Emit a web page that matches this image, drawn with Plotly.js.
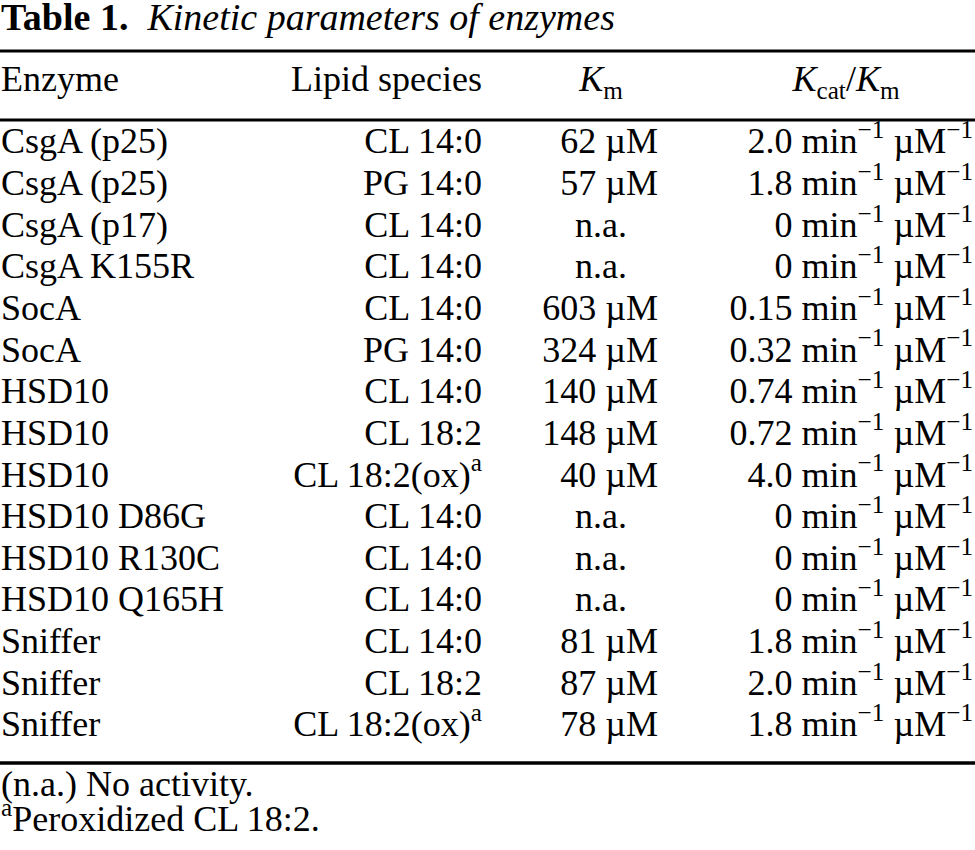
<!DOCTYPE html>
<html>
<head>
<meta charset="utf-8">
<script src="https://cdn.plot.ly/plotly-3.0.1.min.js"></script>
<style>html,body{margin:0;padding:0;background:#fff;}#chart{width:975px;height:850px;}</style>
</head>
<body>
<div id="chart"></div>
<script>
// ---- data ----
var tableTitleLabel = 'Table 1.';
var tableTitleText = 'Kinetic parameters of enzymes';
var columnHeaders = ['Enzyme', 'Lipid species', '<i>K</i><sub>m</sub>', '<i>K</i><sub>cat</sub>/<i>K</i><sub>m</sub>'];
var enzymes = ['CsgA (p25)', 'CsgA (p25)', 'CsgA (p17)', 'CsgA K155R', 'SocA', 'SocA', 'HSD10', 'HSD10', 'HSD10',
               'HSD10 D86G', 'HSD10 R130C', 'HSD10 Q165H', 'Sniffer', 'Sniffer', 'Sniffer'];
var lipidSpecies = ['CL 14:0', 'PG 14:0', 'CL 14:0', 'CL 14:0', 'CL 14:0', 'PG 14:0', 'CL 14:0', 'CL 18:2', 'CL 18:2(ox)',
                    'CL 14:0', 'CL 14:0', 'CL 14:0', 'CL 14:0', 'CL 18:2', 'CL 18:2(ox)'];
var lipidNotes = ['', '', '', '', '', '', '', '', 'a', '', '', '', '', '', 'a'];
var kmValues = [62, 57, null, null, 603, 324, 140, 148, 40, null, null, null, 81, 87, 78]; // null = no activity
var kcatKmValues = ['2.0', '1.8', '0', '0', '0.15', '0.32', '0.74', '0.72', '4.0', '0', '0', '0', '1.8', '2.0', '1.8'];
var kmUnit = '\u00b5M';
var kcatKmUnit = 'min<sup>\u22121</sup> \u00b5M<sup>\u22121</sup>';
var noActivityLabel = 'n.a.';
var footnotes = ['(n.a.) No activity.', '<sup>a</sup>Peroxidized CL 18:2.'];

// ---- layout constants ----
var W = 975, H = 850;
var FONT = {family: '"Liberation Serif", "Times New Roman", serif', size: 36, color: '#000'};
var TITLE_FONT = {family: '"Liberation Serif", "Times New Roman", serif', size: 38, color: '#000'};
var X_ENZ = 1, X_LIPID = 482, X_KM_RIGHT = 658, X_KM_CENTER = 601, X_KK_RIGHT = 973, X_KK_CENTER = 846;
var ROW0_PX = 144.4, ROW_STEP = 41.64;
function pxToRow(px) { return (px - ROW0_PX) / ROW_STEP; }
var Y_HEADER = pxToRow(82.4);
var Y_FOOT = [pxToRow(787.4), pxToRow(822.4)];
var RULES = [{y: pxToRow(51), w: 3}, {y: pxToRow(120), w: 3}, {y: pxToRow(763), w: 3.5}];

var rows = enzymes.map(function (_, i) { return i; });
function rep(v, n) { var a = []; for (var i = 0; i < n; i++) a.push(v); return a; }
var n = rows.length;

var lipidText = lipidSpecies.map(function (s, i) { return lipidNotes[i] ? s + '<sup>' + lipidNotes[i] + '</sup>' : s; });
var kmText = kmValues.map(function (v) { return v === null ? noActivityLabel : v + ' ' + kmUnit; });
var kmX = kmValues.map(function (v) { return v === null ? X_KM_CENTER : X_KM_RIGHT; });
var kmPos = kmValues.map(function (v) { return v === null ? 'middle center' : 'middle left'; });
var kkText = kcatKmValues.map(function (v) { return v + ' ' + kcatKmUnit; });

function textTrace(x, y, text, pos) {
  return {type: 'scatter', mode: 'text', x: x, y: y, text: text, textposition: pos,
          textfont: FONT, hoverinfo: 'skip', showlegend: false, cliponaxis: false};
}

var traces = [
  // header
  textTrace([X_ENZ], [Y_HEADER], [columnHeaders[0]], 'middle right'),
  textTrace([X_LIPID], [Y_HEADER], [columnHeaders[1]], 'middle left'),
  textTrace([X_KM_CENTER], [Y_HEADER], [columnHeaders[2]], 'middle center'),
  textTrace([X_KK_CENTER], [Y_HEADER], [columnHeaders[3]], 'middle center'),
  // body
  textTrace(rep(X_ENZ, n), rows, enzymes, 'middle right'),
  textTrace(rep(X_LIPID, n), rows, lipidText, 'middle left'),
  textTrace(kmX, rows, kmText, kmPos),
  textTrace(rep(X_KK_RIGHT, n), rows, kkText, 'middle left'),
  // footnotes
  textTrace([X_ENZ, X_ENZ], Y_FOOT, footnotes, 'middle right')
];

var shapes = RULES.map(function (r) {
  return {type: 'line', xref: 'paper', yref: 'y', x0: 0, x1: 1, y0: r.y, y1: r.y,
          line: {color: '#000', width: r.w}};
});

var layout = {
  width: W, height: H,
  margin: {l: 0, r: 0, t: 0, b: 0, pad: 0},
  paper_bgcolor: '#fff', plot_bgcolor: '#fff',
  showlegend: false,
  font: FONT,
  title: {
    text: '<b>' + tableTitleLabel + '</b>\u00a0 <i>' + tableTitleText + '</i>',
    font: TITLE_FONT, x: 0.001, xref: 'paper', xanchor: 'left',
    y: 1 - 17 / H, yref: 'container', yanchor: 'middle'
  },
  xaxis: {range: [0, W], visible: false, fixedrange: true, showgrid: false, zeroline: false},
  yaxis: {range: [pxToRow(H), pxToRow(0)], visible: false, fixedrange: true, showgrid: false, zeroline: false},
  shapes: shapes
};

Plotly.newPlot('chart', traces, layout, {displayModeBar: false, staticPlot: true});
</script>
</body>
</html>
